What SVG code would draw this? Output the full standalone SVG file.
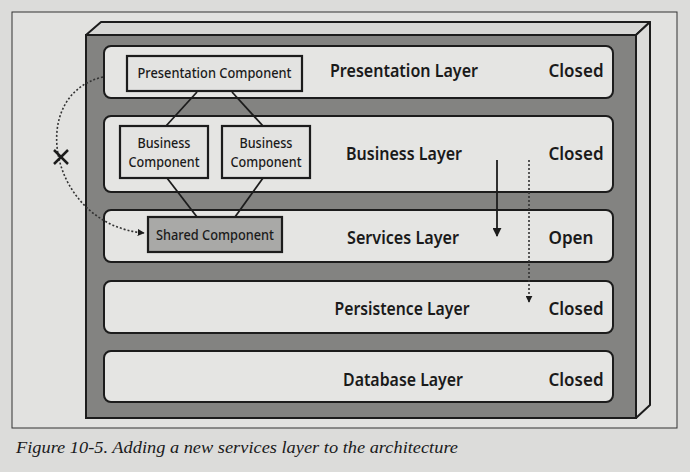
<svg xmlns="http://www.w3.org/2000/svg" width="690" height="472" viewBox="0 0 690 472">
<defs>
<style>
.panel{fill:#e5e5e3;stroke:#1c1c1c;stroke-width:2}
.comp{fill:#e3e3e1;stroke:#1c1c1c;stroke-width:2.2}
.shared{fill:#a9a9a7;stroke:#1c1c1c;stroke-width:2.2}
.layer{font-family:"Noto Sans","Liberation Sans",sans-serif;font-size:18px;font-weight:600;fill:#1a1a1a;text-anchor:middle}
.state{font-family:"Noto Sans","Liberation Sans",sans-serif;font-size:18px;font-weight:600;fill:#1a1a1a;text-anchor:middle}
.ctext{font-family:"Noto Sans","Liberation Sans",sans-serif;font-size:13.5px;font-weight:500;fill:#1a1a1a;text-anchor:middle}
.link{stroke:#1c1c1c;stroke-width:1.8;fill:none}
.dot{stroke:#333;stroke-width:1.6;fill:none;stroke-dasharray:2 2}
</style>
<marker id="ah" viewBox="0 0 10 10" refX="9" refY="5" markerWidth="7" markerHeight="7" markerUnits="userSpaceOnUse" orient="auto">
<path d="M0,0 L10,5 L0,10 z" fill="#1c1c1c"/>
</marker>
<marker id="ahs" viewBox="0 0 10 10" refX="9" refY="5" markerWidth="9" markerHeight="9" markerUnits="userSpaceOnUse" orient="auto">
<path d="M0,0 L10,5 L0,10 z" fill="#1c1c1c"/>
</marker>
</defs>
<rect x="0" y="0" width="690" height="472" fill="#dcdcda"/>
<rect x="12" y="12" width="665" height="416" fill="#e2e2e0" stroke="#333" stroke-width="1"/>
<g id="container">
<polygon points="86,35 101,22 650,22 636,35" fill="#d6d6d4" stroke="#1c1c1c" stroke-width="2" stroke-linejoin="round"/>
<polygon points="636,35 650,22 650,405 636,418" fill="#dcdcda" stroke="#1c1c1c" stroke-width="2" stroke-linejoin="round"/>
<rect x="86" y="35" width="550" height="383" fill="#838381" stroke="#1c1c1c" stroke-width="2"/>
</g>
<g id="presentation-layer">
<rect class="panel" x="104" y="46" width="509" height="52" rx="7"/>
<text class="layer" x="404" y="77" textLength="148" lengthAdjust="spacingAndGlyphs">Presentation Layer</text>
<text class="state" x="576" y="77" textLength="55" lengthAdjust="spacingAndGlyphs">Closed</text>
</g>
<g id="business-layer">
<rect class="panel" x="104" y="116" width="509" height="76" rx="7"/>
<text class="layer" x="404" y="160" textLength="116" lengthAdjust="spacingAndGlyphs">Business Layer</text>
<text class="state" x="576" y="160" textLength="55" lengthAdjust="spacingAndGlyphs">Closed</text>
</g>
<g id="services-layer">
<rect class="panel" x="104" y="210" width="509" height="52" rx="7"/>
<text class="layer" x="403" y="244" textLength="112" lengthAdjust="spacingAndGlyphs">Services Layer</text>
<text class="state" x="571" y="244" textLength="45" lengthAdjust="spacingAndGlyphs">Open</text>
</g>
<g id="persistence-layer">
<rect class="panel" x="104" y="281" width="509" height="52" rx="7"/>
<text class="layer" x="402" y="315" textLength="135" lengthAdjust="spacingAndGlyphs">Persistence Layer</text>
<text class="state" x="576" y="315" textLength="55" lengthAdjust="spacingAndGlyphs">Closed</text>
</g>
<g id="database-layer">
<rect class="panel" x="104" y="351" width="509" height="51" rx="7"/>
<text class="layer" x="403" y="386" textLength="120" lengthAdjust="spacingAndGlyphs">Database Layer</text>
<text class="state" x="576" y="386" textLength="55" lengthAdjust="spacingAndGlyphs">Closed</text>
</g>
<g id="connectors">
<line class="link" x1="197" y1="92" x2="166" y2="126"/>
<line class="link" x1="232" y1="92" x2="263" y2="126"/>
<line class="link" x1="167" y1="178" x2="197" y2="217"/>
<line class="link" x1="263" y1="178" x2="235" y2="217"/>
<path class="dot" d="M103,77 C25,95 50,225 144,233" marker-end="url(#ah)"/>
<line class="link" x1="497" y1="160" x2="497" y2="236" marker-end="url(#ahs)"/>
<line class="dot" x1="529" y1="160" x2="529" y2="302" marker-end="url(#ah)"/>
</g>
<g id="blocked-mark">
<line x1="54" y1="150" x2="68" y2="164" stroke="#1c1c1c" stroke-width="2.5"/>
<line x1="68" y1="150" x2="54" y2="164" stroke="#1c1c1c" stroke-width="2.5"/>
</g>
<g id="presentation-component">
<rect class="comp" x="127" y="56" width="175" height="35"/>
<text class="ctext" x="214.5" y="78" textLength="154" lengthAdjust="spacingAndGlyphs">Presentation Component</text>
</g>
<g id="business-component-1">
<rect class="comp" x="120" y="126" width="88" height="52"/>
<text class="ctext" x="164" y="148" textLength="53" lengthAdjust="spacingAndGlyphs">Business</text>
<text class="ctext" x="164" y="167" textLength="71" lengthAdjust="spacingAndGlyphs">Component</text>
</g>
<g id="business-component-2">
<rect class="comp" x="222" y="126" width="88" height="52"/>
<text class="ctext" x="266" y="148" textLength="53" lengthAdjust="spacingAndGlyphs">Business</text>
<text class="ctext" x="266" y="167" textLength="71" lengthAdjust="spacingAndGlyphs">Component</text>
</g>
<g id="shared-component">
<rect class="shared" x="148" y="217" width="134" height="35"/>
<text class="ctext" x="215" y="240" textLength="118" lengthAdjust="spacingAndGlyphs">Shared Component</text>
</g>
<text x="16" y="453" font-family="'Liberation Serif',serif" font-style="italic" font-size="17" fill="#1a1a1a" textLength="442" lengthAdjust="spacingAndGlyphs">Figure 10-5. Adding a new services layer to the architecture</text>
</svg>
